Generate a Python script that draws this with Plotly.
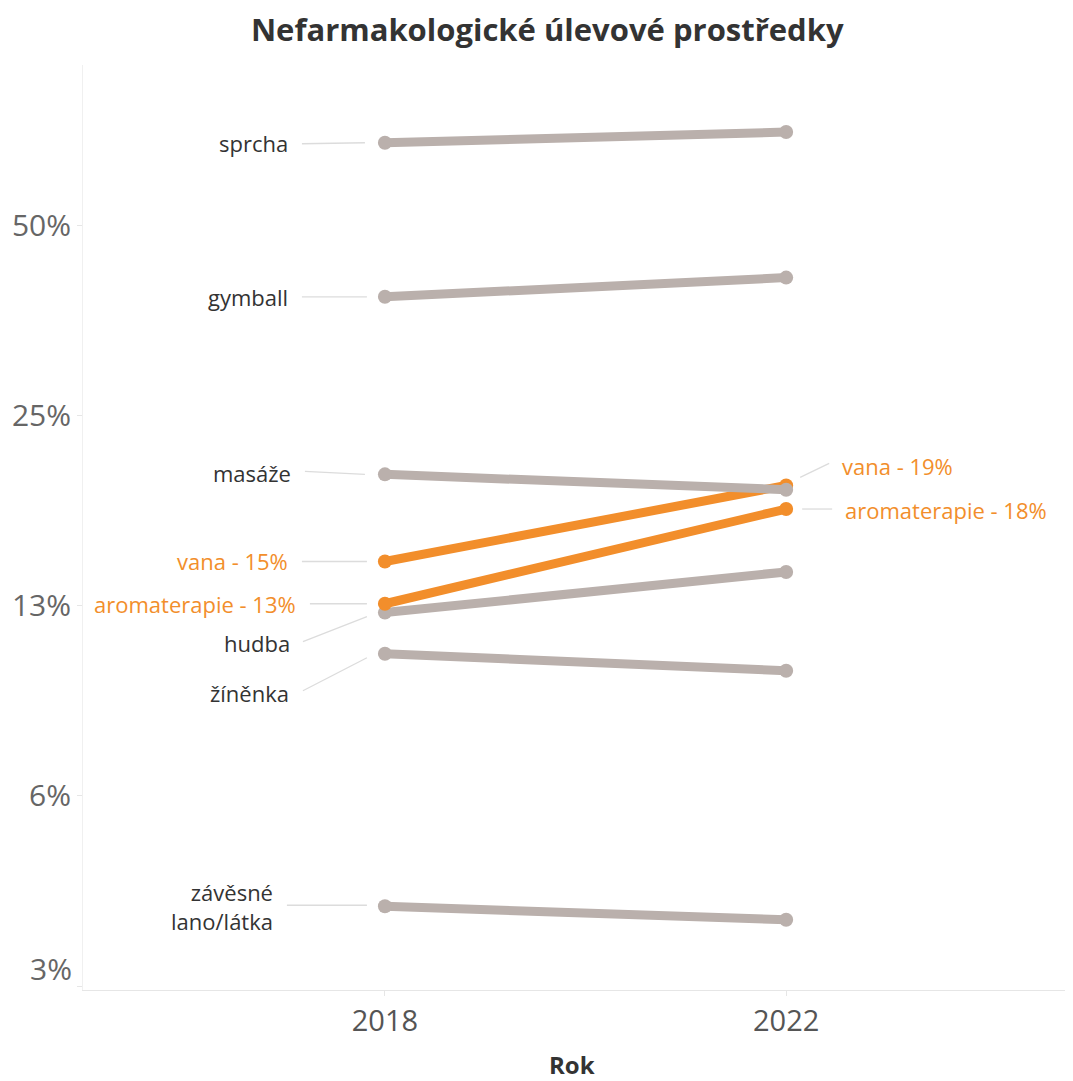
import numpy as np
import plotly.graph_objects as go

# Share of respondents using each non-pharmacological relief method
years = [2018, 2022]
categories = ["sprcha", "gymball", "hudba", "žíněnka", "závěsné<br>lano/látka",
              "vana", "aromaterapie", "masáže"]
share_2018 = [0.677, 0.386, 0.122, 0.105, 0.0418, 0.147, 0.126, 0.202]
share_2022 = [0.704, 0.414, 0.1415, 0.0987, 0.0398, 0.194, 0.178, 0.191]
highlighted = ["vana", "aromaterapie"]

tick_vals = [0.03125, 0.0625, 0.125, 0.25, 0.5]
tick_text = ["", "6%", "13%", "25%", "50%"]

GRAY = "#BAB0AC"
ORANGE = "#F28E2B"
LEADER = "#DCDCDC"
TEXT = "#333333"
FONT = "Open Sans"

W, H = 1073, 1081
MARGIN = dict(l=83, r=8, t=65, b=91)
X_RANGE = [2014.99, 2024.78]
Y_RANGE = [np.log10(0.0308), np.log10(0.899)]
PLOT_W = W - MARGIN["l"] - MARGIN["r"]
PLOT_H = H - MARGIN["t"] - MARGIN["b"]


def offset_point(year, value, dx, dy):
    """Shift a data point by dx/dy screen pixels (dy up) and return data coords."""
    x = year + dx * (X_RANGE[1] - X_RANGE[0]) / PLOT_W
    ly = np.log10(value) + dy * (Y_RANGE[1] - Y_RANGE[0]) / PLOT_H
    return x, 10 ** ly


fig = go.Figure()

# Label placement: text shift x/y in px, leader x0,y0,x1,y1 in px (y up)
left_labels = {
    "sprcha": (-95, 0, (-83, -1, -20, 0)),
    "gymball": (-95, 0, (-83, 0, -18, 0)),
    "masáže": (-92, 1, (-80, 3, -20, 0)),
    "vana": (-95, 0, (-83, 0, -18, 0)),
    "aromaterapie": (-87, 0, (-75, 0, -18, 0)),
    "hudba": (-93, -30, (-82, -29, -18, -4)),
    "žíněnka": (-94, -39, (-82, -37, -18, -4)),
    "závěsné<br>lano/látka": (-110, 0, (-98, 1, -18, 1)),
}
right_labels = {
    "vana": (54, 19, (14, 8, 43, 22)),
    "aromaterapie": (57, -1, (16, 0, 46, 0)),
}

# Thin leader lines between labels and line ends
for name, a, b in zip(categories, share_2018, share_2022):
    for yr, val, table in ((2018, a, left_labels), (2022, b, right_labels)):
        if name not in table:
            continue
        x0, y0, x1, y1 = table[name][2]
        p0 = offset_point(yr, val, x0, y0)
        p1 = offset_point(yr, val, x1, y1)
        fig.add_trace(go.Scatter(
            x=[p0[0], p1[0]], y=[p0[1], p1[1]], mode="lines",
            line=dict(color=LEADER, width=1.3),
            hoverinfo="skip", showlegend=False))

order = ["sprcha", "gymball", "hudba", "žíněnka", "závěsné<br>lano/látka",
         "vana", "aromaterapie", "masáže"]
for name in order:
    i = categories.index(name)
    col = ORANGE if name in highlighted else GRAY
    fig.add_trace(go.Scatter(
        x=years, y=[share_2018[i], share_2022[i]], mode="lines+markers", name=name,
        line=dict(color=col, width=9),
        marker=dict(color=col, size=14),
        hoverinfo="skip", showlegend=False))


def label_text(name, value):
    if name in highlighted:
        return f"{name} - {round(value * 100):.0f}%"
    return name


for name, a, b in zip(categories, share_2018, share_2022):
    col = ORANGE if name in highlighted else TEXT
    for yr, val, table, anchor in ((2018, a, left_labels, "right"),
                                   (2022, b, right_labels, "left")):
        if name not in table:
            continue
        dx, dy, _ = table[name]
        fig.add_annotation(
            x=yr, y=np.log10(val), text=label_text(name, val),
            showarrow=False, xanchor=anchor, yanchor="middle",
            xshift=dx, yshift=dy, align="right",
            font=dict(family=FONT, size=22, color=col))

# Lowest tick label sits just above the axis edge
fig.add_annotation(
    xref="paper", x=0, y=np.log10(tick_vals[0]), text="3%",
    showarrow=False, xanchor="right", yanchor="middle", xshift=-9, yshift=18,
    font=dict(family=FONT, size=30, color="#666666"))

fig.add_annotation(
    xref="paper", yref="paper", x=0.5, y=0, yshift=-74, text="<b>Rok</b>",
    showarrow=False, xanchor="center", yanchor="middle", xshift=-2,
    font=dict(family=FONT, size=24, color=TEXT))

fig.update_layout(
    width=W, height=H,
    margin=MARGIN,
    paper_bgcolor="white", plot_bgcolor="white",
    title=dict(text="<b>Nefarmakologické úlevové prostředky</b>",
               x=0.51, xanchor="center", y=0.972, yanchor="middle",
               font=dict(family=FONT, size=31, color=TEXT)),
    xaxis=dict(range=X_RANGE, tickvals=years, ticktext=[str(y) for y in years],
               showgrid=False, zeroline=False, showline=True, linecolor="#E6E6E6",
               ticks="outside", ticklen=5, tickcolor="#E6E6E6",
               tickfont=dict(family=FONT, size=29, color="#555555")),
    yaxis=dict(type="log", range=Y_RANGE,
               tickvals=tick_vals, ticktext=tick_text,
               showgrid=False, zeroline=False, showline=True, linecolor="#F0F0F0",
               ticks="outside", ticklen=5, tickcolor="#E6E6E6",
               tickfont=dict(family=FONT, size=30, color="#666666")),
)

fig.write_html("out.html")
